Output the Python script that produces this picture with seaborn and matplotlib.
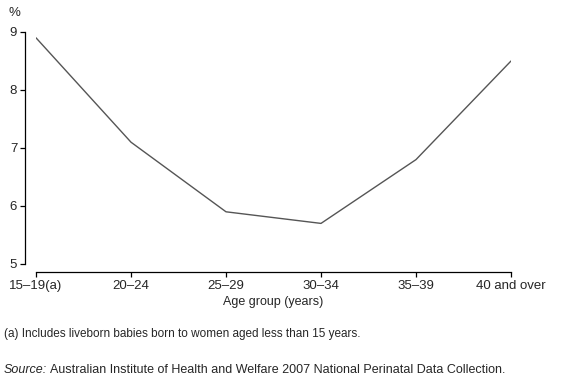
import numpy as np
import pandas as pd
import matplotlib
matplotlib.use("Agg")
import matplotlib.pyplot as plt
import seaborn as sns

# Values
age_groups = ['15–19(a)', '20–24', '25–29', '30–34', '35–39', '40 and over']
pct = [8.9, 7.1, 5.9, 5.7, 6.8, 8.5]
y_ticks = [5, 6, 7, 8, 9]

df = pd.DataFrame({'pos': np.arange(len(age_groups)), 'pct': pct})

sns.set_style('ticks')
plt.rcParams['font.family'] = ['Liberation Sans', 'DejaVu Sans']

fig = plt.figure(figsize=(5.66, 3.88), dpi=100)
ax = fig.add_axes([36 / 566, 1 - 264 / 388, 475 / 566, 232 / 388])

sns.lineplot(data=df, x='pos', y='pct', ax=ax, color='#555555', linewidth=1.0)

ax.set_xlim(0, len(age_groups) - 1)
ax.set_ylim(5, 9)
ax.set_xticks(df['pos'])
ax.set_xticklabels(age_groups)
ax.set_yticks(y_ticks)
ax.set_xlabel('Age group (years)', fontsize=9, labelpad=3)
ax.set_ylabel('')
ax.tick_params(axis='both', labelsize=9.5, direction='out', length=3.5, width=0.9,
               color='black', pad=2)

# detached axis lines like the original
sns.despine(ax=ax)
ax.spines['left'].set_position(('outward', 8))
ax.spines['bottom'].set_position(('outward', 6))
for s in ('left', 'bottom'):
    ax.spines[s].set_linewidth(0.9)
    ax.spines[s].set_color('black')

fig.text(14 / 566, 1 - 13 / 388, '%', fontsize=9.5, ha='center', va='center')
fig.text(4 / 566, 1 - 334 / 388,
         '(a) Includes liveborn babies born to women aged less than 15 years.',
         fontsize=8.5, ha='left', va='center')

# "Source:" in italics, then the rest upright
src = fig.text(4 / 566, 1 - 370 / 388, 'Source:', fontsize=9,
               ha='left', va='center', style='italic')
fig.canvas.draw()
bb = src.get_window_extent()
fig.text((bb.x1 + 3) / 566, 1 - 370 / 388,
         'Australian Institute of Health and Welfare 2007 National Perinatal Data Collection.',
         fontsize=9, ha='left', va='center')

fig.savefig('out.png', dpi=100)
